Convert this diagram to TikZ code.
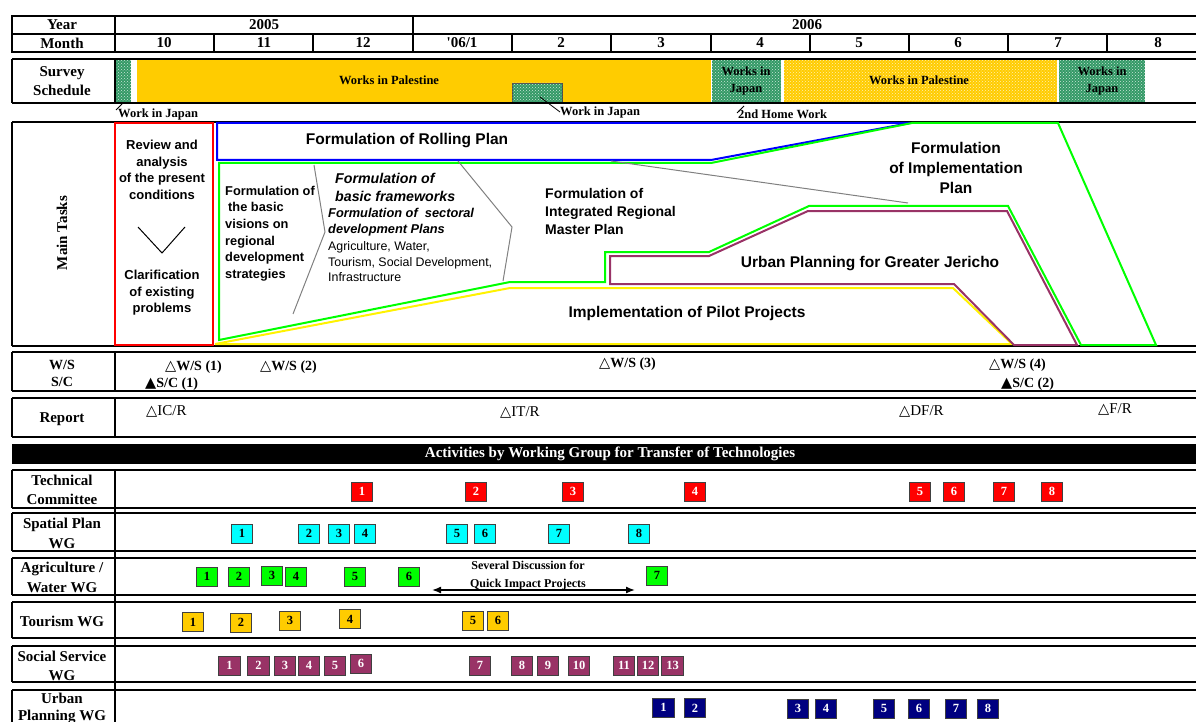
\documentclass[tikz,border=0pt]{standalone}
\usepackage{fontspec}
\setmainfont{Liberation Serif}
\setsansfont{Liberation Sans}
\newfontfamily\trifont{DejaVu Sans}
\newfontfamily\plainserif{Liberation Serif}
\usetikzlibrary{patterns,arrows.meta}

\definecolor{gold}{HTML}{FFCC00}
\definecolor{seagreen}{HTML}{339966}
\definecolor{plum}{HTML}{993366}
\definecolor{navyblue}{HTML}{000080}
\definecolor{aqua}{HTML}{00FFFF}
\definecolor{lime}{HTML}{00FF00}

\newcommand\wtri{{\trifont\fontsize{14.5}{14}\selectfont △}}
\newcommand\btri{{\trifont\fontsize{14.5}{14}\selectfont ▲}}

\tikzset{
  frame/.style={line width=2.6pt},
  thinframe/.style={line width=1.6pt},
  lbl/.style={font=\bfseries\fontsize{15}{19}\selectfont, align=center, inner sep=0pt},
  svtext/.style={font=\bfseries\fontsize{12.5}{17}\selectfont, align=center, inner sep=0pt},
  wsmark/.style={font=\bfseries\fontsize{14}{14}\selectfont, anchor=west, inner sep=0pt},
  rep/.style={font=\fontsize{15}{15}\selectfont, anchor=west, inner sep=0pt},
  task/.style={font=\sffamily\bfseries\fontsize{15.5}{20}\selectfont, align=center, inner sep=0pt},
  jpbox/.style={fill=seagreen, postaction={pattern=crosshatch dots, pattern color=white!75!seagreen}},
  plbox/.style={fill=gold, postaction={pattern=crosshatch dots, pattern color=white!70!gold}},
  act/.style={draw=black!75, line width=0.9pt, minimum width=21.5pt, minimum height=19pt,
    inner sep=0pt, font=\bfseries\fontsize{12.5}{12}\selectfont}
}

\begin{document}
\begin{tikzpicture}[x=1pt,y=-1pt]
\useasboundingbox (0,0) rectangle (1196,722);

\begin{scope}
	\draw[frame] (12,16) rectangle (1200,52);
	\draw[frame] (12,34) -- (1200,34);
	\draw[frame] (115,16) -- (115,52);
	\draw[frame] (413,16) -- (413,52);
	\foreach \x in {214,313,512,611,711,810,909,1008,1107}
		\draw[thinframe] (\x,34) -- (\x,52);
	\node[lbl] (year) at (62,25) {Year};
	\node[lbl] (month) at (62,43) {Month};
	\node[lbl] (y2005) at (264,25) {2005};
	\node[lbl] (y2006) at (807,25) {2006};
	\foreach \x/\m [count=\i] in {164/10,264/11,363/12,462/{{\plainserif\bfseries '}06/1},561/2,661/3,760/4,859/5,958/6,1058/7,1158/8}
		\node[lbl] (m\i) at (\x,43) {\m};
\end{scope}

\begin{scope}
	\fill[jpbox] (116,60) rectangle (131,102);
	\fill[gold] (137,60) rectangle (711,102);
	\fill[jpbox, draw=black!70, line width=0.8pt] (512,83) rectangle (562,102);
	\fill[jpbox] (712,60) rectangle (781,102);
	\fill[plbox] (784,60) rectangle (1057,102);
	\fill[jpbox] (1059,60) rectangle (1145,102);
	\draw[frame] (12,59) -- (1200,59);
	\draw[frame] (12,103) -- (1200,103);
	\draw[frame] (12,59) -- (12,103);
	\draw[frame] (115,59) -- (115,103);
	\node[lbl] (survey) at (62,81) {Survey\\Schedule};
	\node[svtext] (pal1) at (389,80) {Works in Palestine};
	\node[svtext] (jp2) at (746,80.5) {Works in\\Japan};
	\node[svtext] (pal2) at (919,80) {Works in Palestine};
	\node[svtext] (jp3) at (1102,80.5) {Works in\\Japan};
	\node[svtext, anchor=west] (wj1) at (118,114) {Work in Japan};
	\node[svtext, anchor=west] (wj2) at (560,112) {Work in Japan};
	\node[svtext, anchor=west] (home) at (738,114) {2nd Home Work};
	\draw[line width=0.8pt] (122,104) -- (116,110);
	\draw[line width=0.8pt] (540,97) -- (wj2.west);
	\draw[line width=0.8pt] (744,106) -- (737,113);
\end{scope}

\begin{scope}
	\draw[frame] (12,122) -- (1200,122);
	\draw[frame] (12,346) -- (1200,346);
	\draw[frame] (12,122) -- (12,346);
	\node[lbl, rotate=90] (tasks) at (62,233) {Main Tasks};
	\draw[red, line width=2pt] (115,123) rectangle (213,345);
	\draw[blue, line width=2pt] (217,123) -- (217,160) -- (711,160) -- (910,123) -- cycle;
	\draw[lime, line width=2pt] (219,163) -- (711,163) -- (912,123) -- (1058,123) -- (1156,345)
		-- (1081,345) -- (1008,206) -- (809,206) -- (709,252) -- (605,252) -- (605,282)
		-- (510,282) -- (219,340) -- cycle;
	\draw[yellow, line width=2pt] (215,344) -- (510,288) -- (953,288) -- (1012,344) -- cycle;
	\draw[plum, line width=2pt] (610,256) -- (709,256) -- (808,211) -- (1007,211) -- (1077,345)
		-- (1014,345) -- (954,284) -- (610,284) -- cycle;
	\draw[gray, line width=1pt] (314,165) -- (325,232) -- (293,314);
	\draw[gray, line width=1pt] (458,161) -- (512,227) -- (503,281);
	\draw[gray, line width=1pt] (611,161) -- (908,203);
	\draw[line width=1pt] (138,227) -- (162,253) -- (185,227);
	\node[task, font=\sffamily\bfseries\fontsize{13}{16.5}\selectfont] (review) at (162,170)
		{Review and\\analysis\\of the present\\conditions};
	\node[task, font=\sffamily\bfseries\fontsize{13}{16.5}\selectfont] (clarify) at (162,293)
		{Clarification\\of existing\\problems};
	\node[task] (rolling) at (407,141) {Formulation of Rolling Plan};
	\node[task, anchor=west, align=left, font=\sffamily\bfseries\fontsize{12.8}{16.6}\selectfont] (visions)
		at (225,233.5) {Formulation of\\\hspace{3pt}the basic\\visions on\\regional\\development\\strategies};
	\node[task, anchor=west, align=left, font=\sffamily\bfseries\itshape\fontsize{14.2}{18}\selectfont] (frame)
		at (335,187) {Formulation of\\basic frameworks};
	\node[task, anchor=west, align=left, font=\sffamily\bfseries\itshape\fontsize{12.8}{16}\selectfont] (sector)
		at (328,222) {Formulation of~ sectoral\\development Plans};
	\node[task, anchor=west, align=left, font=\sffamily\fontsize{12.4}{15.5}\selectfont] (sectors)
		at (328,262) {Agriculture, Water,\\Tourism, Social Development,\\Infrastructure};
	\node[task, anchor=west, align=left, font=\sffamily\bfseries\fontsize{14}{18}\selectfont] (master)
		at (545,211) {Formulation of\\Integrated Regional\\Master Plan};
	\node[task] (implplan) at (956,168) {Formulation\\of Implementation\\Plan};
	\node[task] (jericho) at (870,264) {Urban Planning for Greater Jericho};
	\node[task] (pilot) at (687,313) {Implementation of Pilot Projects};
\end{scope}

\begin{scope}
	\draw[frame] (12,352) -- (1200,352);
	\draw[frame] (12,391) -- (1200,391);
	\draw[frame] (12,352) -- (12,391);
	\draw[frame] (115,352) -- (115,391);
	\node[lbl, font=\bfseries\fontsize{14}{17}\selectfont] (wssc) at (62,373.5) {W/S\\S/C};
	\node[wsmark] (ws1) at (165,367) {\wtri W/S (1)};
	\node[wsmark] (ws2) at (260,367) {\wtri W/S (2)};
	\node[wsmark] (sc1) at (145,384) {\btri S/C (1)};
	\node[wsmark] (ws3) at (599,364) {\wtri W/S (3)};
	\node[wsmark] (ws4) at (989,365) {\wtri W/S (4)};
	\node[wsmark] (sc2) at (1001,384) {\btri S/C (2)};
	\draw[frame] (12,398) -- (1200,398);
	\draw[frame] (12,437) -- (1200,437);
	\draw[frame] (12,398) -- (12,437);
	\draw[frame] (115,398) -- (115,437);
	\node[lbl] (report) at (62,419) {Report};
	\node[rep] (icr) at (146,411) {\wtri IC/R};
	\node[rep] (itr) at (500,412) {\wtri IT/R};
	\node[rep] (dfr) at (899,411) {\wtri DF/R};
	\node[rep] (fr) at (1098,409) {\wtri F/R};
\end{scope}

\begin{scope}
	\fill[black] (12,444) rectangle (1200,464);
	\node[lbl, text=white] (activities) at (610,454) {Activities by Working Group for Transfer of Technologies};
	\foreach \t/\b in {470/508,513/551,558/595,602/638,646/682,690/740} {
		\draw[frame] (12,\t) -- (1200,\t);
		\draw[frame] (12,\b) -- (1200,\b);
		\draw[frame] (12,\t) -- (12,\b);
	}
	\draw[frame] (115,470) -- (115,722);
	\node[lbl] (tc) at (62,489.5) {Technical\\Committee};
	\node[lbl, font=\bfseries\fontsize{15}{20}\selectfont] (sp) at (62,533) {Spatial Plan\\WG};
	\node[lbl, font=\bfseries\fontsize{15}{20}\selectfont] (ag) at (62,577) {Agriculture /\\Water WG};
	\node[lbl] (to) at (62,621) {Tourism WG};
	\node[lbl] (ss) at (62,665.5) {Social Service\\WG};
	\node[lbl, font=\bfseries\fontsize{15}{17}\selectfont] (up) at (62,708.5) {Urban\\Planning WG};
	\foreach \x [count=\n] in {362,476,573,695,920,954,1004,1052}
		\node[act, fill=red, text=white] (tc\n) at (\x,491.5) {\n};
	\foreach \x [count=\n] in {242,309,339,365,457,485,559,639}
		\node[act, fill=aqua] (sp\n) at (\x,533.5) {\n};
	\foreach \x/\y [count=\n] in {207/576.5,239/576.5,272/575.5,296/576.5,355/576.5,409/576.5,657/575.5}
		\node[act, fill=lime] (ag\n) at (\x,\y) {\n};
	\foreach \x/\y [count=\n] in {193/622,241/622.5,290/620.5,350/619,473/620.5,498/620.5}
		\node[act, fill=gold] (to\n) at (\x,\y) {\n};
	\foreach \x/\y [count=\n] in {229.5/665.5,258.5/665.5,285/665.5,309/665.5,335/665.5,361/663.5,480/665.5,
			522/665.5,548/665.5,579/665.5,624/665.5,648/665.5,672.5/665.5}
		\node[act, fill=plum, text=white] (ss\n) at (\x,\y) {\n};
	\foreach \x/\y [count=\n] in {663.5/707.5,695/708,798/708.5,826/708.5,884/708.5,919/708.5,956/708.5,988/708.5}
		\node[act, fill=navyblue, text=white] (up\n) at (\x,\y) {\n};
	\node[svtext, font=\bfseries\fontsize{12}{18}\selectfont] (quick) at (528,576) {Several Discussion for\\Quick Impact Projects};
	\coordinate (qa) at (432,590);
	\coordinate (qb) at (635,590);
	\draw[{Latex[length=9pt,width=7pt]}-{Latex[length=9pt,width=7pt]}, line width=1.4pt] (qa) -- (qb);
\end{scope}
\end{tikzpicture}
\end{document}
